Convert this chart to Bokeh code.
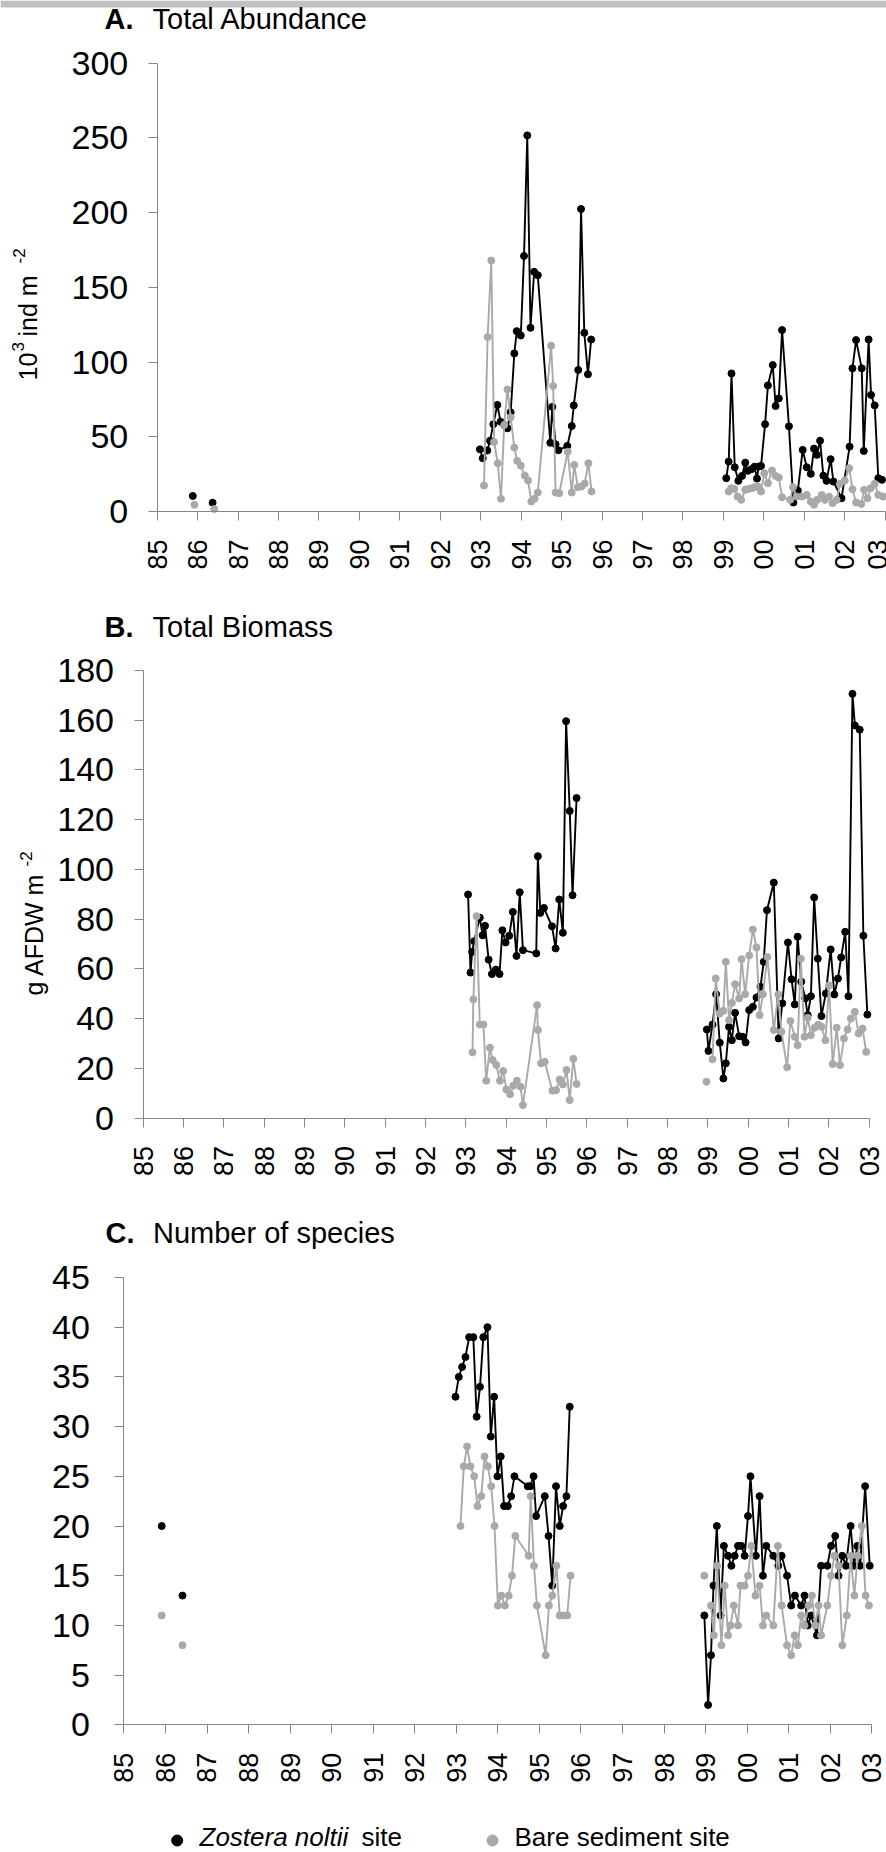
import math
from bokeh.plotting import figure
from bokeh.models import (Range1d, FixedTicker, Label, ColumnDataSource, LinearAxis,
                          BoxAnnotation)
from bokeh.embed import file_html
from bokeh.resources import INLINE

FONT = "Liberation Sans"
BLACK = "#000000"
GREY = "#a9a9a9"
AXIS = "#868686"

YEAR_TICKS = list(range(1985, 2004))
YEAR_LABELS = ["85", "86", "87", "88", "89", "90", "91", "92", "93", "94",
               "95", "96", "97", "98", "99", "00", "01", "02", "03"]

# ---------------- A. Total abundance (10^3 ind m-2) ----------------
A_ZOS_EARLY = [[(1985.88, 10.4)], [(1986.37, 5.9)]]
A_ZOS_9396 = [(1992.98, 41.6), (1993.05, 35.6), (1993.16, 40.8), (1993.23, 47.4), (1993.31, 58.4),
              (1993.41, 71.3), (1993.49, 60.1), (1993.58, 57.9), (1993.66, 55.7), (1993.74, 66.4),
              (1993.83, 105.8), (1993.89, 120.7), (1993.99, 117.8), (1994.07, 171.0), (1994.15, 251.7),
              (1994.23, 122.9), (1994.32, 160.4), (1994.41, 158.1), (1994.72, 46.0), (1994.77, 70.0),
              (1994.85, 45.0), (1994.92, 41.0), (1995.14, 43.9), (1995.25, 57.2), (1995.30, 71.0),
              (1995.41, 94.7), (1995.48, 202.4), (1995.56, 119.6), (1995.65, 91.8), (1995.73, 115.1)]
A_ZOS_9903 = [(1999.07, 22.3), (1999.13, 33.4), (1999.20, 92.4), (1999.28, 29.6), (1999.37, 20.5),
              (1999.46, 23.8), (1999.54, 32.7), (1999.60, 27.2), (1999.69, 28.3), (1999.77, 30.0),
              (1999.83, 22.0), (1999.87, 30.0), (1999.93, 30.5), (2000.03, 58.4), (2000.10, 84.4),
              (2000.22, 98.0), (2000.29, 70.6), (2000.37, 75.7), (2000.45, 121.4), (2000.62, 57.0),
              (2000.73, 6.0), (2000.84, 14.0), (2000.96, 41.2), (2001.06, 29.6), (2001.16, 25.2),
              (2001.24, 42.1), (2001.31, 37.9), (2001.39, 47.4), (2001.47, 24.0), (2001.55, 20.5),
              (2001.65, 35.0), (2001.72, 20.0), (2001.92, 8.9), (2002.12, 43.4), (2002.19, 95.8),
              (2002.28, 114.7), (2002.42, 95.8), (2002.47, 40.5), (2002.59, 115.1), (2002.65, 78.0),
              (2002.74, 71.0), (2002.83, 22.3), (2002.92, 21.2)]
A_BARE_EARLY = [[(1985.92, 4.5)], [(1986.41, 1.7)]]
A_BARE_9396 = [(1993.08, 17.4), (1993.17, 116.7), (1993.26, 167.9), (1993.33, 46.5), (1993.42, 32.3),
               (1993.50, 8.5), (1993.58, 57.9), (1993.66, 81.7), (1993.74, 63.0), (1993.83, 42.8),
               (1993.90, 33.9), (1993.99, 30.7), (1994.09, 24.0), (1994.17, 20.7), (1994.25, 6.7),
               (1994.33, 8.5), (1994.41, 12.7), (1994.74, 111.0), (1994.79, 84.0), (1994.85, 12.7),
               (1994.94, 12.2), (1995.15, 40.0), (1995.25, 12.7), (1995.31, 31.2), (1995.40, 16.3),
               (1995.49, 16.7), (1995.57, 18.7), (1995.66, 32.3), (1995.74, 13.4)]
A_BARE_9903 = [(1999.13, 13.4), (1999.19, 15.6), (1999.27, 15.1), (1999.35, 10.0), (1999.44, 7.8),
               (1999.54, 14.5), (1999.62, 15.1), (1999.70, 15.6), (1999.77, 16.3), (1999.85, 16.7),
               (1999.93, 13.4), (2000.01, 25.6), (2000.10, 18.9), (2000.20, 27.4), (2000.29, 23.8),
               (2000.37, 22.7), (2000.45, 9.6), (2000.65, 7.8), (2000.72, 16.3), (2000.81, 10.0),
               (2000.94, 10.0), (2001.06, 11.1), (2001.16, 6.7), (2001.24, 4.5), (2001.32, 7.8),
               (2001.43, 11.1), (2001.51, 7.8), (2001.61, 10.0), (2001.70, 5.6), (2001.80, 7.8),
               (2001.88, 18.5), (2002.00, 20.7), (2002.11, 29.0), (2002.19, 14.9), (2002.28, 6.0),
               (2002.41, 5.1), (2002.48, 14.5), (2002.56, 8.9), (2002.64, 15.6), (2002.74, 18.5),
               (2002.83, 11.1), (2002.95, 10.0)]

# ---------------- B. Total biomass (g AFDW m-2) ----------------
B_ZOS_9396 = [(1993.06, 89.9), (1993.12, 58.5), (1993.16, 66.8), (1993.21, 71.1), (1993.35, 80.6),
              (1993.42, 73.5), (1993.48, 77.3), (1993.57, 63.7), (1993.65, 57.9), (1993.75, 59.7),
              (1993.84, 57.9), (1993.91, 75.5), (1993.99, 70.6), (1994.08, 73.3), (1994.17, 82.9),
              (1994.26, 65.2), (1994.34, 90.8), (1994.42, 67.5), (1994.75, 66.2), (1994.79, 105.3),
              (1994.85, 82.5), (1994.94, 84.5), (1995.14, 77.1), (1995.23, 68.2), (1995.32, 87.9),
              (1995.41, 74.5), (1995.49, 159.6), (1995.58, 123.5), (1995.65, 89.6), (1995.75, 128.7)]
B_ZOS_9903 = [(1998.98, 35.6), (1999.02, 27.0), (1999.12, 37.6), (1999.21, 49.8), (1999.30, 30.3),
              (1999.39, 15.9), (1999.45, 22.0), (1999.53, 36.7), (1999.60, 31.3), (1999.68, 42.3),
              (1999.78, 32.9), (1999.86, 32.7), (1999.94, 30.4), (2000.03, 43.4), (2000.12, 44.7),
              (2000.21, 48.5), (2000.31, 52.8), (2000.39, 62.8), (2000.47, 83.6), (2000.64, 94.7),
              (2000.76, 32.0), (2000.85, 46.1), (2000.99, 70.6), (2001.08, 55.8), (2001.16, 45.7),
              (2001.23, 72.9), (2001.32, 54.8), (2001.42, 48.1), (2001.48, 41.4), (2001.56, 49.0),
              (2001.64, 88.7), (2001.73, 64.1), (2001.82, 41.0), (2001.93, 50.1), (2002.05, 67.8),
              (2002.14, 49.7), (2002.23, 56.1), (2002.31, 64.6), (2002.41, 74.9), (2002.49, 49.0),
              (2002.59, 170.6), (2002.65, 157.9), (2002.77, 156.2), (2002.86, 73.3), (2002.96, 41.6)]
B_BARE_9396 = [(1993.17, 26.4), (1993.19, 47.7), (1993.27, 81.2), (1993.35, 37.6), (1993.44, 37.6),
               (1993.51, 15.0), (1993.60, 28.3), (1993.67, 23.3), (1993.76, 21.3), (1993.85, 15.0),
               (1993.93, 18.9), (1994.01, 11.5), (1994.10, 9.6), (1994.18, 13.0), (1994.27, 15.0),
               (1994.36, 12.6), (1994.42, 5.2), (1994.77, 45.4), (1994.79, 35.4), (1994.87, 22.0),
               (1994.96, 22.6), (1995.15, 11.0), (1995.24, 11.2), (1995.33, 15.5), (1995.41, 13.5),
               (1995.50, 19.3), (1995.58, 7.2), (1995.67, 23.8), (1995.75, 13.7)]
B_BARE_9899 = [(1998.97, 14.6)]
B_BARE_9903 = [(1999.12, 23.6), (1999.20, 56.1), (1999.30, 42.0), (1999.39, 43.1), (1999.45, 62.8),
               (1999.53, 39.4), (1999.60, 46.3), (1999.68, 53.8), (1999.78, 48.1), (1999.84, 63.9),
               (1999.93, 49.8), (2000.03, 65.4), (2000.12, 75.8), (2000.21, 68.6), (2000.29, 41.4),
               (2000.37, 49.8), (2000.48, 64.8), (2000.64, 35.4), (2000.75, 49.7), (2000.83, 34.7),
               (2000.97, 20.4), (2001.05, 39.0), (2001.16, 32.7), (2001.23, 29.3), (2001.31, 64.1),
               (2001.40, 32.7), (2001.48, 40.3), (2001.56, 33.3), (2001.65, 36.3), (2001.74, 37.6),
               (2001.82, 36.7), (2001.92, 31.3), (2002.01, 53.4), (2002.10, 21.7), (2002.20, 36.3),
               (2002.28, 21.3), (2002.38, 32.0), (2002.47, 35.6), (2002.55, 40.0), (2002.65, 42.7),
               (2002.74, 34.0), (2002.84, 36.0), (2002.93, 26.6)]

# ---------------- C. Number of species ----------------
C_ZOS_EARLY = [[(1985.91, 20)], [(1986.41, 13)]]
C_ZOS_9396 = [(1992.98, 33), (1993.06, 35), (1993.14, 36), (1993.22, 37), (1993.31, 39),
              (1993.41, 39), (1993.49, 31), (1993.57, 34), (1993.65, 39), (1993.75, 40),
              (1993.83, 29), (1993.91, 33), (1993.99, 25), (1994.07, 27), (1994.15, 22),
              (1994.24, 22), (1994.32, 23), (1994.40, 25), (1994.72, 24), (1994.78, 24),
              (1994.86, 25), (1994.92, 21), (1995.13, 23), (1995.22, 19), (1995.31, 14),
              (1995.40, 24), (1995.49, 20), (1995.57, 22), (1995.65, 23), (1995.73, 32)]
C_ZOS_9903 = [(1998.97, 11), (1999.06, 2), (1999.13, 7), (1999.19, 14), (1999.27, 20),
              (1999.36, 11), (1999.44, 18), (1999.54, 17), (1999.62, 16), (1999.70, 17),
              (1999.78, 18), (1999.86, 18), (1999.94, 17), (2000.02, 21), (2000.08, 25),
              (2000.21, 17), (2000.30, 23), (2000.38, 15), (2000.46, 18), (2000.63, 17),
              (2000.75, 16), (2000.83, 17), (2000.96, 15), (2001.06, 12), (2001.15, 13),
              (2001.30, 12), (2001.38, 13), (2001.46, 10), (2001.54, 11), (2001.68, 9),
              (2001.78, 16), (2001.93, 16), (2002.02, 18), (2002.12, 19), (2002.20, 15),
              (2002.29, 17), (2002.38, 16), (2002.49, 20), (2002.57, 16), (2002.65, 18),
              (2002.72, 16), (2002.84, 24), (2002.95, 16)]
C_BARE_EARLY = [[(1985.91, 11)], [(1986.41, 8)]]
C_BARE_9396 = [(1993.10, 20), (1993.18, 26), (1993.26, 28), (1993.34, 26), (1993.43, 25),
               (1993.51, 22), (1993.60, 23), (1993.68, 27), (1993.76, 26), (1993.84, 24),
               (1993.92, 20), (1994.00, 12), (1994.08, 13), (1994.17, 12), (1994.26, 13),
               (1994.34, 15), (1994.42, 19), (1994.74, 17), (1994.79, 23), (1994.87, 16),
               (1994.94, 12), (1995.15, 7), (1995.23, 12), (1995.31, 13), (1995.41, 16),
               (1995.49, 11), (1995.57, 11), (1995.67, 11), (1995.75, 15)]
C_BARE_9899 = [(1998.97, 15)]
C_BARE_9903 = [(1999.13, 12), (1999.20, 9), (1999.28, 16), (1999.38, 8), (1999.46, 14),
               (1999.54, 9), (1999.60, 10), (1999.68, 12), (1999.78, 10), (1999.84, 14),
               (1999.94, 14), (2000.02, 15), (2000.10, 18), (2000.20, 13), (2000.30, 14),
               (2000.38, 10), (2000.46, 11), (2000.63, 10), (2000.74, 18), (2000.83, 12),
               (2000.96, 8), (2001.06, 7), (2001.14, 9), (2001.22, 8), (2001.30, 11),
               (2001.38, 10), (2001.48, 12), (2001.56, 13), (2001.64, 10), (2001.72, 12),
               (2001.78, 9), (2001.93, 12), (2002.02, 15), (2002.10, 17), (2002.20, 16),
               (2002.29, 8), (2002.40, 11), (2002.49, 17), (2002.58, 13), (2002.66, 17),
               (2002.76, 20), (2002.85, 13), (2002.93, 12)]

LEGEND_ITALIC = "Zostera noltii"
LEGEND_TAIL = "site"
LEGEND_BARE = "Bare sediment site"

W, H = 886, 1852
NAN = float("nan")
V = math.pi / 2

# One canvas for the whole page: the default ranges are page pixels (y downwards),
# each panel gets its own pair of extra ranges (years / values).
p = figure(width=W, height=H, output_backend="svg", toolbar_location=None,
           x_range=Range1d(0, W), y_range=Range1d(H, 0),
           x_axis_type=None, y_axis_type=None, min_border=0,
           outline_line_color=None, background_fill_color="white",
           border_fill_color="white")


def join(segments):
    xs, ys = [], []
    for i, seg in enumerate(segments):
        if i:
            xs.append(NAN)
            ys.append(NAN)
        for x, y in seg:
            xs.append(x)
            ys.append(y)
    return xs, ys


def add_panel(name, X85, X03, Y0, Ytop, ymax, ystep, ystandoff):
    k = (X03 - X85) / 18.0
    ppu = (Y0 - Ytop) / float(ymax)
    xn, yn = "x" + name, "y" + name
    p.extra_x_ranges[xn] = Range1d(1985 - X85 / k, 1985 + (W - X85) / k)
    p.extra_y_ranges[yn] = Range1d((Y0 - H) / ppu, Y0 / ppu)
    xa = LinearAxis(x_range_name=xn, y_range_name=yn, fixed_location=0, bounds=(1985, 2003),
                    ticker=FixedTicker(ticks=YEAR_TICKS))
    xa.major_label_overrides = dict(zip(YEAR_TICKS, YEAR_LABELS))
    xa.major_label_orientation = V
    xa.major_label_text_font_size = "27px"
    xa.major_label_standoff = 19
    ya = LinearAxis(x_range_name=xn, y_range_name=yn, fixed_location=1985, bounds=(0, ymax),
                    ticker=FixedTicker(ticks=list(range(0, ymax + 1, ystep))))
    ya.major_label_text_font_size = "34px"
    ya.major_label_standoff = ystandoff
    for ax in (xa, ya):
        ax.axis_line_color = AXIS
        ax.axis_line_width = 1
        ax.major_tick_line_color = AXIS
        ax.major_tick_in = 0
        ax.major_tick_out = 9
        ax.minor_tick_line_color = None
        ax.major_label_text_font = FONT
        ax.major_label_text_color = "black"
    p.add_layout(xa, "below")
    p.add_layout(ya, "left")
    return xn, yn


def draw_series(rn, segments, color):
    xs, ys = join(segments)
    src = ColumnDataSource(dict(x=xs, y=ys))
    p.line("x", "y", source=src, line_color=color, line_width=1.9,
           x_range_name=rn[0], y_range_name=rn[1])
    p.scatter("x", "y", source=src, size=7, fill_color=color, line_color=color,
              marker="circle", x_range_name=rn[0], y_range_name=rn[1])


def add_text(px, base, text, size, style="normal", rotated=False):
    """Place text by its baseline (page pixels); anchored at the middle of the capitals."""
    shift = 0.358 * size
    if rotated:
        x, y, ang = px - shift, base, V
    else:
        x, y, ang = px, base - shift, 0.0
    p.add_layout(Label(x=x, y=y, text=text, text_font=FONT, text_font_size="%dpx" % size,
                       text_font_style=style, text_color="black", angle=ang,
                       text_align="left", text_baseline="middle"))


# grey strip across the top of the page
p.add_layout(BoxAnnotation(left=0, right=W, top=0, bottom=7, fill_color="#c0c0c0",
                           fill_alpha=1.0, line_color=None))

# ---- panel A
rA = add_panel("A", 156.7, 884.7, 511.0, 62.7, 300, 50, 20)
draw_series(rA, A_ZOS_EARLY + [A_ZOS_9396, A_ZOS_9903], BLACK)
draw_series(rA, A_BARE_EARLY + [A_BARE_9396, A_BARE_9903], GREY)
add_text(104, 29.3, "A.", 29, "bold")
add_text(152, 29.3, "Total Abundance", 29)
add_text(36.7, 380, "10", 25, rotated=True)
add_text(23.5, 351, "3", 17, rotated=True)
add_text(36.7, 336, "ind m", 25, rotated=True)
add_text(25, 263, "-2", 17, rotated=True)

# ---- panel B
rB = add_panel("B", 142.5, 868.5, 1117.5, 670.0, 180, 20, 20)
draw_series(rB, [B_ZOS_9396, B_ZOS_9903], BLACK)
draw_series(rB, [B_BARE_9396, B_BARE_9899, B_BARE_9903], GREY)
add_text(104, 636.7, "B.", 29, "bold")
add_text(152, 636.7, "Total Biomass", 29)
add_text(42, 995, "g AFDW m", 25, rotated=True)
add_text(32, 866, "-2", 17, rotated=True)

# ---- panel C
rC = add_panel("C", 123.4, 871.3, 1724.3, 1277.0, 45, 5, 25)
draw_series(rC, C_ZOS_EARLY + [C_ZOS_9396, C_ZOS_9903], BLACK)
draw_series(rC, C_BARE_EARLY + [C_BARE_9396, C_BARE_9899, C_BARE_9903], GREY)
add_text(105, 1243, "C.", 29, "bold")
add_text(152.5, 1243, "Number of species", 29)

# ---- legend
p.scatter(x=[176.7], y=[1840], size=11, marker="circle", fill_color=BLACK, line_color=BLACK)
p.scatter(x=[492], y=[1840], size=11, marker="circle", fill_color=GREY, line_color=GREY)
add_text(199, 1845.7, LEGEND_ITALIC, 26, "italic")
add_text(361, 1845.7, LEGEND_TAIL, 26)
add_text(514, 1845.7, LEGEND_BARE, 26)

open("out.html", "w").write(file_html(p, INLINE))
